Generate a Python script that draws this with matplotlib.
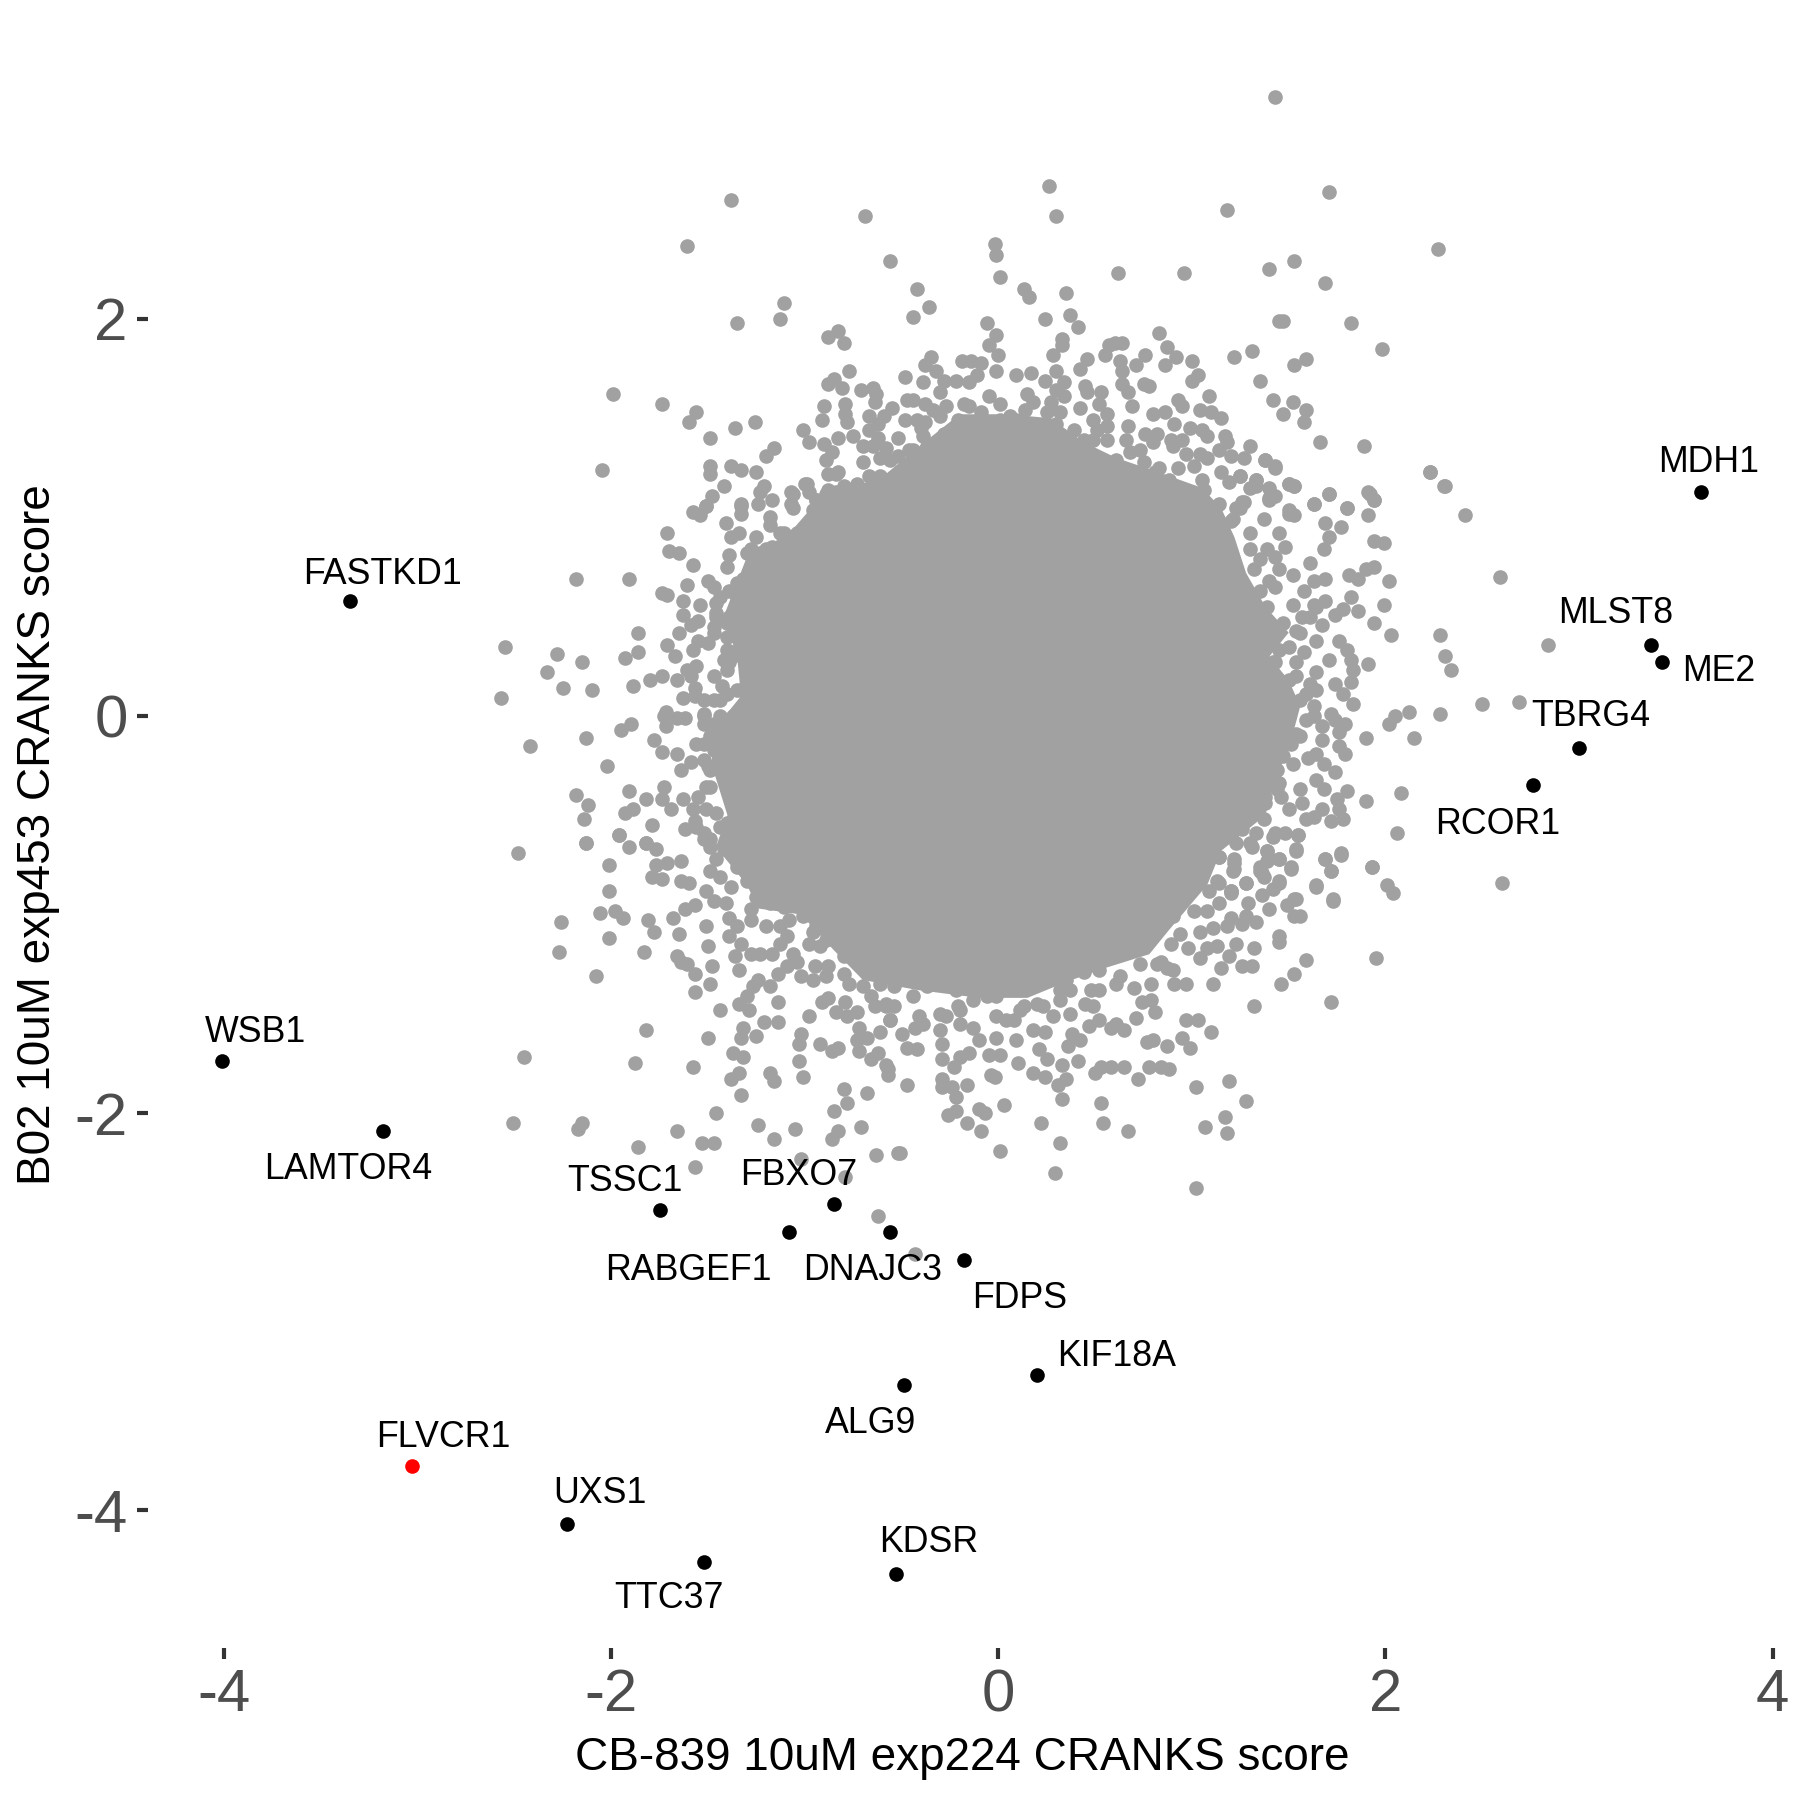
import numpy as np
from matplotlib import pyplot as plt

plt.rcParams['font.family'] = ['Liberation Sans', 'DejaVu Sans']

GREY = '#A1A1A1'

# points, one list per region of the cloud
upper_left = [(-1.38,2.60),(-0.69,2.52),(-1.61,2.37),(-0.56,2.29),(-0.42,2.15),(-0.36,2.06),(-0.44,2.01),(-1.11,2.08),
    (-1.13,2.00),(-1.35,1.98),(-0.83,1.94),(-0.88,1.91),(-0.80,1.88),(-0.35,1.81),(-0.38,1.77),(-0.32,1.74),(-0.77,1.74),
    (-0.48,1.71),(-0.85,1.70),(-0.88,1.67),(-0.81,1.65),(-0.39,1.68),(-0.71,1.64),(-0.65,1.65),(-0.63,1.62),(-1.99,1.62),
    (-1.74,1.57),(-1.56,1.53),(-1.60,1.48),(-1.26,1.48),(-1.36,1.45),(-1.49,1.40),(-0.90,1.56),(-0.79,1.57),(-0.79,1.52),
    (-0.78,1.48),(-0.91,1.49),(-1.01,1.44),(-0.98,1.38),(-0.64,1.58),(-0.55,1.55),(-0.59,1.51),(-0.67,1.51),(-0.62,1.47),
    (-0.67,1.44),(-0.47,1.59),(-0.44,1.59),(-0.38,1.57),(-0.48,1.49),(-0.42,1.49),(-0.38,1.48),(-0.40,1.45),(-0.30,1.51),
    (-0.52,1.40),(-0.62,1.40),(-0.75,1.41),(-0.83,1.40),(-0.90,1.37),(-0.86,1.33),(-0.89,1.29),(-0.70,1.28),(-0.58,1.35),
    (-0.61,1.30),(-0.70,1.36),(-1.16,1.35),(-1.20,1.31),(-2.05,1.24),(-1.49,1.26),(-1.49,1.22),(-1.38,1.26),(-1.33,1.24),
    (-1.25,1.23),(-1.42,1.16),(-1.48,1.11),(-1.51,1.06),(-1.21,1.16),(-1.23,1.13),(-1.17,1.09),(-1.24,1.07),(-1.33,1.07),
    (-1.00,1.17),(-1.07,1.13),(-0.98,1.13),(-0.88,1.22),(-0.83,1.23),(-0.88,1.14),(-0.84,1.13),(-0.73,1.17),(-0.67,1.21),
    (-0.61,1.21),(-0.94,1.09),(-0.78,1.10),(-1.07,1.07),(-0.52,1.31),(-0.44,1.34),(-0.37,1.36)]

upper_right = [(1.43,3.12),(1.71,2.64),(0.26,2.67),(0.30,2.52),(1.18,2.55),(2.27,2.35),(-0.02,2.38),(-0.01,2.32),(0.01,2.21),
    (0.62,2.23),(0.96,2.23),(1.40,2.25),(1.53,2.29),(1.69,2.18),(0.13,2.15),(0.16,2.11),(0.35,2.13),(0.24,2.00),(0.37,2.02),
    (0.41,1.96),(-0.06,1.98),(-0.01,1.92),(-0.05,1.87),(0.00,1.82),(-0.01,1.74),(-0.19,1.79),(-0.14,1.79),(-0.09,1.78),
    (0.09,1.72),(0.17,1.73),(0.33,1.90),(0.33,1.87),(0.28,1.82),(0.46,1.80),(0.42,1.75),(0.30,1.74),(0.24,1.69),(0.34,1.68),
    (0.55,1.82),(0.57,1.87),(0.60,1.88),(0.64,1.88),(0.63,1.79),(0.64,1.74),(0.71,1.77),(0.76,1.82),(0.83,1.93),(0.87,1.86),
    (0.92,1.81),(0.86,1.77),(1.00,1.79),(1.03,1.72),(1.00,1.69),(0.75,1.67),(0.78,1.66),(0.64,1.67),(0.67,1.63),(0.69,1.56),
    (0.45,1.66),(0.46,1.63),(0.53,1.63),(0.42,1.55),(0.52,1.57),(0.56,1.52),(0.49,1.49),(0.67,1.46),(1.09,1.61),(0.93,1.59),
    (0.95,1.56),(0.80,1.52),(0.86,1.53),(1.04,1.54),(1.10,1.53),(1.15,1.50),(0.91,1.47),(0.99,1.45),(1.05,1.44),(1.08,1.41),
    (1.17,1.41),(1.22,1.81),(1.31,1.84),(1.35,1.69),(1.42,1.59),(1.52,1.58),(1.47,1.52),(1.59,1.54),(1.58,1.48),(1.45,1.99),
    (1.47,1.99),(1.82,1.98),(1.98,1.85),(1.53,1.77),(1.59,1.80),(1.66,1.38),(1.89,1.36),(2.23,1.23),(2.30,1.16),(1.30,1.36),
    (1.27,1.30),(1.38,1.29),(1.43,1.25),(1.18,1.38),(1.14,1.34),(1.20,1.31),(1.08,1.30),(1.04,1.32),(0.97,1.32),(1.25,1.21),
    (1.15,1.23),(1.19,1.18),(1.33,1.19),(1.30,1.15),(1.40,1.15),(1.43,1.11),(1.40,1.09),(1.50,1.17),(1.53,1.16),(1.71,1.12),
    (1.63,1.07),(1.80,1.05),(1.92,1.12),(1.94,1.09),(1.27,1.08),(1.23,1.05),(1.50,1.04),(0.83,1.25),(0.81,1.23),(0.93,1.25),
    (1.01,1.26),(0.88,1.19),(1.05,1.19),(0.76,1.42),(0.82,1.42),(0.80,1.38),(0.66,1.39),(0.68,1.33),(0.73,1.34),(0.75,1.28),
    (0.89,1.39),(0.90,1.36),(0.95,1.39),(0.39,1.44),(0.36,1.39),(-0.05,1.61),(0.15,1.62),(0.01,1.57),(0.18,1.58),(0.27,1.58),
    (0.34,1.61),(0.30,1.64),(-0.09,1.53),(-0.21,1.49),(-0.18,1.57),(-0.15,1.68),(-0.22,1.69),(-0.11,1.72),(0.14,1.54),
    (0.30,1.47),(0.09,1.49),(0.01,1.49),(0.25,1.53),(0.56,1.46),(0.51,1.44),(-0.08,1.42)]

left_side = [(-1.71,0.92),(-1.70,0.83),(-1.65,0.82),(-1.58,0.76),(-2.18,0.69),(-1.91,0.69),(-1.50,0.68),(-1.47,0.65),(-1.61,0.66),
    (-1.74,0.62),(-1.71,0.61),(-1.63,0.58),(-1.54,0.56),(-1.63,0.51),(-1.55,0.48),(-1.59,0.46),(-1.86,0.42),(-1.65,0.42),
    (-1.71,0.36),(-1.55,0.38),(-1.86,0.32),(-1.93,0.29),(-2.55,0.35),(-2.28,0.31),(-2.15,0.27),(-2.33,0.22),(-1.67,0.30),
    (-1.58,0.33),(-2.25,0.14),(-2.10,0.13),(-1.89,0.15),(-1.80,0.18),(-1.74,0.20),(-1.66,0.18),(-1.61,0.23),(-1.56,0.25),
    (-1.59,0.20),(-2.57,0.09),(-1.57,0.14),(-1.63,0.09),(-1.57,0.10),(-1.47,0.20),(-1.43,0.15),(-1.40,0.23),(-1.72,0.02),
    (-1.73,0.00),(-1.72,-0.05),(-1.66,-0.01),(-1.62,-0.01),(-1.90,-0.04),(-1.95,-0.07),(-2.13,-0.11),(-2.42,-0.15),(-1.78,-0.12),
    (-1.74,-0.18),(-1.66,-0.19),(-1.59,-0.23),(-1.64,-0.27),(-2.02,-0.25),(-1.56,-0.14),(-2.18,-0.40),(-1.91,-0.38),(-1.73,-0.36),
    (-2.12,-0.45),(-1.82,-0.42),(-1.74,-0.42),(-1.89,-0.47),(-1.93,-0.49),(-1.69,-0.47),(-1.63,-0.42),(-1.55,-0.41),(-2.14,-0.52),
    (-1.79,-0.55),(-1.96,-0.60),(-1.62,-0.57),(-1.57,-0.53),(-2.13,-0.64),(-1.82,-0.64),(-1.41,0.97),(-1.33,1.06),(-1.33,1.02),
    (-1.58,1.03),(-1.54,1.01),(-1.51,1.06),(-1.38,0.90),(-1.34,0.92),(-1.25,0.90),(-1.18,1.00),(-1.18,0.96),(-1.39,0.81),
    (-1.40,0.75),(-1.30,0.82),(-1.23,0.82),(-1.17,0.85),(-1.24,0.71),(-1.16,0.70),(-1.32,0.69),(-1.11,0.92),(-1.04,0.92),
    (-0.96,1.00),(-0.89,0.94),(-1.39,0.63),(-1.46,0.57),(-1.46,0.50),(-1.33,0.55),(-1.40,0.47),(-1.32,0.47),(-1.23,0.58),
    (-1.47,0.42),(-1.50,0.37),(-1.40,0.33),(-1.37,0.30),(-1.42,0.28),(-1.30,0.38),(-1.28,0.30),(-1.35,0.13),(-1.44,0.08),
    (-1.52,0.08),(-1.52,0.00),(-1.47,-0.04),(-1.49,-0.10),(-1.47,-0.17),(-1.50,-0.25),(-1.44,-0.27),(-1.37,0.00),(-1.37,-0.14),
    (-1.51,-0.36),(-1.37,-0.40),(-1.32,-0.37),(-1.23,-0.40),(-1.28,-0.44),(-1.46,-0.49),(-1.52,-0.59),(-1.44,-0.56),(-1.32,-0.56),
    (-1.20,-0.54),(-1.49,-0.62)]

lower_left = [(-2.48,-0.69),(-2.13,-0.64),(-1.96,-0.60),(-1.91,-0.66),(-1.82,-0.64),(-1.77,-0.67),(-2.01,-0.75),(-1.77,-0.75),
    (-1.71,-0.74),(-1.64,-0.73),(-1.79,-0.81),(-1.74,-0.82),(-1.64,-0.83),(-1.60,-0.84),(-2.01,-0.88),(-1.51,-0.88),(-1.47,-0.93),
    (-1.41,-0.94),(-1.49,-0.78),(-1.44,-0.81),(-1.38,-0.86),(-1.57,-0.95),(-1.62,-0.97),(-2.06,-0.99),(-1.98,-0.98),(-1.94,-1.02),
    (-2.26,-1.04),(-1.81,-1.03),(-1.68,-1.02),(-1.39,-1.02),(-1.78,-1.09),(-1.65,-1.10),(-1.51,-1.06),(-2.01,-1.12),(-1.50,-1.16),
    (-2.27,-1.19),(-1.83,-1.19),(-1.66,-1.21),(-1.64,-1.24),(-1.61,-1.25),(-1.36,-1.21),(-1.48,-1.26),(-1.34,-1.28),(-1.57,-1.30),
    (-2.08,-1.31),(-1.49,-1.35),(-1.57,-1.39),(-1.35,-1.06),(-1.39,-1.11),(-1.33,-1.15),(-1.28,-1.20),(-1.23,-1.20),(-1.17,-1.20),
    (-1.13,-1.15),(-1.09,-1.11),(-1.13,-1.06),(-1.20,-1.06),(-1.28,-1.03),(-1.28,-0.97),(-1.06,-1.20),(-1.04,-1.24),(-1.09,-1.26),
    (-1.14,-1.30),(-1.02,-1.31),(-0.95,-1.26),(-0.88,-1.26),(-0.89,-1.31),(-0.96,-1.33),(-0.98,-1.15),(-0.92,-1.16),(-0.96,-1.09),
    (-1.24,-1.33),(-1.27,-1.36),(-1.18,-1.36),(-1.14,-1.44),(-1.30,-1.41),(-1.34,-1.45),(-1.29,-1.48),(-1.44,-1.48),(-0.91,-1.44),
    (-0.88,-1.42),(-0.84,-1.49),(-0.79,-1.44),(-0.73,-1.49),(-0.78,-1.51),(-0.98,-1.51),(-1.14,-1.54),(-1.21,-1.54),(-1.32,-1.57),
    (-1.33,-1.62),(-1.25,-1.61),(-1.50,-1.62),(-1.82,-1.58),(-1.02,-1.60),(-1.03,-1.65),(-0.92,-1.65),(-0.86,-1.69),(-0.83,-1.67),
    (-0.72,-1.57),(-0.73,-1.63),(-0.68,-1.62),(-0.61,-1.59),(-0.56,-1.53),(-0.58,-1.46),(-0.64,-1.46),(-0.66,-1.41),(-1.37,-1.70),
    (-1.32,-1.72),(-2.45,-1.72),(-1.88,-1.75),(-1.58,-1.77),(-1.03,-1.74),(-0.72,-1.69),(-0.66,-1.73),(-0.62,-1.70),(-0.58,-1.76),
    (-0.57,-1.81),(-1.34,-1.80),(-1.38,-1.83),(-1.18,-1.80),(-1.16,-1.84),(-1.01,-1.82),(-1.33,-1.91),(-0.80,-1.88),(-0.68,-1.90),
    (-0.78,-1.95),(-1.46,-2.00),(-0.85,-1.99),(-2.51,-2.05),(-2.15,-2.05),(-2.17,-2.08),(-1.24,-2.06),(-1.05,-2.08),(-0.71,-2.07),
    (-0.83,-2.09),(-0.86,-2.13),(-1.66,-2.09),(-1.16,-2.13),(-1.53,-2.15),(-1.47,-2.15),(-1.86,-2.17),(-0.63,-2.21),(-0.52,-2.20),
    (-1.02,-2.23),(-1.57,-2.27),(-0.79,-2.32),(-0.62,-2.52)]

lower_right = [(-0.43,-2.71),(-0.51,-2.20),(-0.47,-1.86),(-0.57,-1.78),(-0.42,-1.68),(-0.47,-1.67),(-0.50,-1.60),(-0.56,-1.53),
    (-0.43,-1.57),(-0.39,-1.55),(-0.29,-1.73),(-0.23,-1.77),(-0.29,-1.83),(-0.29,-1.87),(-0.24,-1.87),(-0.22,-1.92),(-0.16,-1.86),
    (-0.22,-1.99),(-0.26,-2.01),(-0.16,-2.05),(-0.10,-1.98),(-0.07,-2.00),(-0.09,-2.09),(0.03,-1.96),(-0.04,-1.81),(-0.02,-1.82),
    (0.10,-1.75),(-0.20,-1.72),(-0.15,-1.70),(-0.05,-1.71),(0.01,-1.71),(-0.10,-1.63),(-0.01,-1.62),(0.09,-1.63),(-0.29,-1.65),
    (0.18,-1.58),(0.24,-1.59),(0.21,-1.68),(0.25,-1.73),(0.33,-1.76),(0.18,-1.80),(0.24,-1.82),(0.31,-1.86),(0.35,-1.83),(0.41,-1.74),
    (0.50,-1.80),(0.53,-1.77),(0.58,-1.77),(0.65,-1.77),(0.78,-1.77),(0.84,-1.77),(0.88,-1.78),(0.72,-1.83),(0.22,-2.05),(0.33,-1.93),
    (0.53,-1.95),(0.54,-2.05),(0.67,-2.09),(0.32,-2.15),(0.01,-2.19),(0.29,-2.30),(1.02,-1.87),(1.19,-1.84),(1.28,-1.94),(1.17,-2.02),
    (1.07,-2.07),(1.18,-2.10),(1.02,-2.38),(0.77,-1.64),(0.80,-1.63),(0.87,-1.66),(0.99,-1.67),(0.95,-1.62),(0.97,-1.53),(1.03,-1.53),
    (1.10,-1.59),(0.71,-1.52),(0.36,-1.66),(0.42,-1.63),(0.38,-1.60),(0.58,-1.57),(0.65,-1.58),(0.61,-1.55),(0.47,-1.56),(0.52,-1.53),
    (0.28,-1.51),(0.37,-1.50),(0.49,-1.46),(0.45,-1.45),(0.74,-1.44),(0.79,-1.43),(0.81,-1.49),(1.32,-1.46),(1.72,-1.44),(1.46,-1.35),
    (1.53,-1.30),(1.59,-1.23),(1.95,-1.22),(1.11,-1.35),(0.91,-1.35),(0.97,-1.35),(1.15,-1.27),(1.26,-1.26),(1.31,-1.26),(1.19,-1.21),
    (1.04,-1.22),(0.98,-1.17),(1.08,-1.17),(1.13,-1.16),(1.23,-1.15),(1.32,-1.17),(1.45,-1.11),(1.45,-1.14),(0.52,-1.38),(0.48,-1.38),
    (0.79,-1.35),(0.70,-1.37),(0.61,-1.35),(0.87,-1.27),(0.90,-1.28),(0.84,-1.24),(0.44,-1.29),(0.94,-1.10),(1.04,-1.09),(1.11,-1.07),
    (1.18,-1.06),(1.26,-1.05),(1.33,-1.04),(1.20,-1.02),(1.28,-1.01),(1.08,-0.98),(1.14,-0.94),(1.20,-0.88),(1.14,-0.84),(1.28,-0.84),
    (1.29,-0.94),(1.40,-0.97),(1.36,-0.90),(1.42,-0.87),(1.45,-0.83),(1.49,-0.95),(1.54,-0.92),(1.53,-1.01),(1.56,-1.01),(1.64,-0.86),
    (1.73,-0.93),(1.72,-0.78),(1.69,-0.72),(1.77,-0.69),(1.93,-0.76),(1.51,-0.77),(1.36,-0.79),(1.35,-0.76),(1.39,-0.73),(1.39,-0.68),
    (1.45,-0.72),(1.54,-0.67),(1.55,-0.60),(1.42,-0.61),(1.22,-0.77),(1.22,-0.72),(1.31,-0.66),(1.14,-0.71),(-0.44,-1.41),(-0.37,-1.36),
    (-0.22,-1.38),(-0.21,-1.46),(-0.13,-1.43),(-0.06,-1.38),(-0.01,-1.41),(-0.20,-1.55),(-0.13,-1.57),(-0.30,-1.58),(-0.27,-1.51),
    (0.08,-1.53),(-0.01,-1.51),(0.13,-1.46),(0.20,-1.45),(0.32,-1.38),(0.35,-1.33),(0.25,-1.25),(-0.58,-1.45)]

right_side = [(2.23,1.23),(2.31,1.16),(2.41,1.01),(2.59,0.70),(2.84,0.36),(2.28,0.41),(2.31,0.30),(2.34,0.23),(2.50,0.06),(2.69,0.07),
    (2.28,0.01),(2.12,0.02),(2.05,0.00),(2.02,-0.04),(2.15,-0.11),(1.90,-0.11),(2.08,-0.39),(1.90,-0.43),(2.06,-0.59),(1.93,-0.76),
    (2.60,-0.84),(2.01,-0.85),(2.04,-0.89),(1.64,-0.85),(1.77,-0.70),(1.69,-0.72),(1.72,-0.78),(1.91,1.13),(1.94,1.09),(1.91,1.01),
    (1.94,0.88),(1.99,0.87),(1.71,1.12),(1.63,1.07),(1.80,1.05),(1.69,0.97),(1.77,0.95),(1.71,0.90),(1.68,0.84),(1.61,0.77),(2.02,0.68),
    (1.94,0.75),(1.90,0.74),(1.86,0.69),(1.81,0.71),(1.99,0.56),(1.82,0.60),(1.86,0.53),(1.94,0.47),(2.03,0.41),(1.91,0.26),(1.76,0.38),
    (1.80,0.33),(1.82,0.28),(1.83,0.23),(1.82,0.17),(1.74,0.16),(1.78,0.11),(1.83,0.06),(1.71,0.28),(1.64,0.22),(1.64,0.38),(1.67,0.46),
    (1.74,0.51),(1.78,0.54),(1.69,0.58),(1.63,0.56),(1.52,0.56),(1.69,0.69),(1.63,0.68),(1.58,0.63),(1.52,0.71),(1.43,0.65),(1.40,0.68),
    (1.45,0.74),(1.43,0.80),(1.48,0.85),(1.45,0.92),(1.37,0.99),(1.50,1.02),(1.53,1.01),(1.50,1.17),(1.53,1.16),(1.38,1.29),(1.43,1.26),
    (1.33,1.19),(1.40,1.10),(1.26,1.08),(1.20,0.98),(1.25,1.21),(1.64,0.13),(1.63,0.05),(1.72,0.01),(1.79,-0.04),(1.74,-0.02),(1.76,-0.08),
    (1.67,-0.05),(1.67,-0.12),(1.76,-0.15),(1.79,-0.19),(1.64,-0.19),(1.60,-0.21),(1.52,-0.24),(1.68,-0.24),(1.74,-0.28),(1.64,-0.32),
    (1.68,-0.37),(1.80,-0.38),(1.75,-0.42),(1.76,-0.47),(1.78,-0.52),(1.72,-0.53),(1.56,-0.37),(1.57,-0.44),(1.67,-0.47),(1.63,-0.51),
    (1.59,-0.52),(1.50,-0.47),(1.55,-0.60),(1.48,-0.59),(1.43,-0.59),(1.37,-0.52),(1.54,-0.68),(1.51,-0.76),(1.45,-0.72),(1.39,-0.68),
    (1.35,-0.78),(1.37,-0.81),(1.45,-0.84),(1.28,-0.84),(1.22,-0.74),(1.30,-0.64),(1.53,-0.92),(1.73,-0.92),(1.20,-0.89),(1.43,0.27),
    (1.54,0.27),(1.58,0.32),(1.50,0.35),(1.56,0.42),(1.45,0.33),(1.40,0.42),(1.37,0.42),(1.54,0.20),(1.47,0.16),(1.61,0.16),(1.56,0.08),
    (1.50,0.00),(1.59,-0.02),(1.56,-0.10),(1.47,-0.20),(1.44,-0.27),(1.45,-0.34),(1.46,-0.41),(1.38,-0.44),(1.32,-0.44)]

# crowded edge of the solid part
rim = [(-0.56,1.29),(-0.46,1.34),(-0.51,1.22),(-0.68,1.14),(-0.59,1.16),(-0.80,1.16),(-0.65,1.36),(-0.39,1.41),(-0.28,1.42),(-0.30,1.63),
    (-0.28,1.69),(-0.27,1.56),(-0.34,1.54),(-0.15,1.56),(0.06,1.51),(0.16,1.46),(0.25,1.46),(0.32,1.53),(0.49,1.39),(0.56,1.39),(0.44,1.39),
    (0.61,1.29),(0.68,1.22),(0.75,1.19),(0.85,1.15),(0.95,1.14),(1.06,1.14),(1.14,1.07),(0.99,1.07),(-1.06,1.12),(-0.99,1.17),(-1.06,1.05),
    (-0.94,1.09),(-0.89,1.12),(-0.84,1.22),(-0.85,1.04),(-0.96,1.04),(-1.13,0.92),(-1.01,0.94),(-1.28,0.84),(-1.20,0.84),(-1.09,0.84),
    (-1.35,0.67),(-1.30,0.70),(-1.23,0.63),(-1.44,0.60),(-1.35,0.60),(-1.46,0.52),(-1.39,0.50),(-1.47,0.45),(-1.35,0.40),(-1.40,0.40),
    (-1.30,0.30),(-1.28,0.23),(-1.37,0.32),(-1.39,0.27),(-1.33,0.13),(-1.40,0.11),(-1.47,0.08),(-1.52,0.01),(-1.44,0.00),(-1.52,-0.04),
    (-1.49,-0.12),(-1.52,-0.14),(-1.46,-0.17),(-1.52,-0.22),(-1.49,-0.27),(-1.40,-0.31),(-1.49,-0.36),(-1.37,-0.37),(-1.37,-0.44),(-1.28,-0.46),
    (-1.20,-0.47),(-1.51,-0.47),(-1.58,-0.47),(-1.56,-0.56),(-1.40,-0.54),(-1.28,-0.56),(-1.15,-0.52),(-1.52,-0.62),(-1.49,-0.66),(-1.42,-0.67),
    (-1.33,-0.64),(-1.46,-0.72),(-1.35,-0.76),(-1.28,-0.74),(-1.30,-0.83),(-1.23,-0.79),(-1.25,-0.91),(-1.18,-0.94),(-1.11,-0.96),(-1.08,-1.03),
    (-1.01,-1.01),(-0.94,-1.06),(-0.80,-1.13),(-0.89,-1.13),(-0.80,-1.21),(-0.80,-1.30),(-0.77,-1.35),(-0.70,-1.36),(-0.61,-1.35),(-0.54,-1.36),
    (-0.71,-1.25),(1.30,0.92),(1.25,1.05),(1.21,0.99),(1.33,1.16),(1.30,0.84),(1.35,0.79),(1.32,0.74),(1.39,0.84),(1.35,0.63),(1.39,0.55),
    (1.47,0.47),(1.42,0.45),(1.37,0.43),(1.54,0.43),(1.61,0.50),(1.57,0.50),(1.64,0.55),(1.42,0.27),(1.37,0.21),(1.50,0.18),(1.44,0.13),
    (1.59,0.11),(1.63,0.00),(1.54,-0.09),(1.51,-0.14),(1.42,-0.26),(1.44,-0.37),(1.38,-0.41),(1.30,-0.44),(1.21,-0.52),(1.26,-0.57),(1.33,-0.59),
    (1.23,-0.64),(1.14,-0.71),(1.21,-0.78),(1.13,-0.83),(1.20,-0.88),(1.09,-0.88),(1.01,-0.98),(0.90,-1.01),(0.89,-1.15),(0.82,-1.25),(0.73,-1.25),
    (0.63,-1.31),(0.52,-1.28),(0.37,-1.38),(0.32,-1.43),(0.23,-1.46),(0.11,-1.48),(0.04,-1.53),(-0.06,-1.41),(-0.20,-1.48),(-0.30,-1.50),
    (-0.41,-1.51),(-0.54,-1.46)]

# the middle of the cloud is solid grey, single points can't be read there,
# so only its outline is kept
core_x = [-0.20, 0.05, 0.27, 0.44, 0.61, 0.85, 1.05, 1.15, 1.22, 1.28, 1.38, 1.50, 1.40, 1.50, 1.56, 1.50, 1.42, 1.38, 1.15, 1.08, 0.88,
          0.78, 0.55, 0.35, 0.15, -0.10, -0.42, -0.70, -0.85, -1.02, -1.24, -1.30, -1.46, -1.40, -1.48, -1.48, -1.33, -1.35, -1.42,
          -1.36, -1.30, -1.08, -0.92, -0.75, -0.58, -0.42]
core_y = [1.52, 1.52, 1.50, 1.38, 1.30, 1.22, 1.15, 1.05, 0.90, 0.72, 0.55, 0.42, 0.30, 0.18, 0.05, -0.17, -0.34, -0.50, -0.68, -0.85, -1.08,
          -1.20, -1.27, -1.34, -1.42, -1.42, -1.38, -1.33, -1.18, -1.00, -0.97, -0.85, -0.66, -0.50, -0.25, -0.08, 0.10, 0.30, 0.50,
          0.65, 0.80, 0.92, 1.10, 1.15, 1.22, 1.35]

genes = ['MDH1', 'MLST8', 'ME2', 'TBRG4', 'RCOR1', 'FASTKD1', 'WSB1', 'LAMTOR4', 'TSSC1', 'FBXO7', 'RABGEF1', 'DNAJC3',
         'FDPS', 'KIF18A', 'ALG9', 'FLVCR1', 'UXS1', 'TTC37', 'KDSR']
gene_x = [3.63, 3.37, 3.43, 3.00, 2.76, -3.35, -4.01, -3.18, -1.75, -0.85, -1.08, -0.56, -0.18, 0.20, -0.49, -3.03, -2.23, -1.52, -0.53]
gene_y = [1.13, 0.36, 0.27, -0.16, -0.35, 0.58, -1.74, -2.09, -2.49, -2.46, -2.60, -2.60, -2.74, -3.32, -3.37, -3.78, -4.07, -4.26, -4.32]
label_x = [3.67, 3.19, 3.72, 3.06, 2.58, -3.18, -3.84, -3.36, -1.93, -1.03, -1.60, -0.65, 0.11, 0.61, -0.66, -2.87, -2.06, -1.70, -0.36]
label_y = [1.275, 0.515, 0.225, -0.005, -0.545, 0.715, -1.595, -2.285, -2.345, -2.315, -2.795, -2.795, -2.935, -3.225, -3.565, -3.635, -3.915, -4.445, -4.165]

xticks = [-4, -2, 0, 2, 4]
yticks = [-4, -2, 0, 2]

grey = np.array(upper_left + upper_right + left_side + lower_left + lower_right + right_side + rim)

fig = plt.figure(figsize=(6, 6), dpi=300)
ax = fig.add_axes([148/1800, 1 - 1648/1800, (1776 - 148)/1800, (1648 - 22)/1800])

ax.fill(core_x, core_y, color=GREY, lw=0, zorder=1)
ax.scatter(grey[:, 0], grey[:, 1], s=12.3, c=GREY, linewidths=0, zorder=2)

for gene, x, y, lx, ly in zip(genes, gene_x, gene_y, label_x, label_y):
    ax.scatter(x, y, s=12.3, c='red' if gene == 'FLVCR1' else 'black', linewidths=0, zorder=3)
    ax.text(lx, ly, gene, fontsize=8.6, color='black', ha='center', va='center', zorder=4)

ax.set_xlim(-4.394, 4.018)
ax.set_ylim(-4.695, 3.496)
ax.set_xticks(xticks)
ax.set_yticks(yticks)
ax.set_xticklabels([str(t) for t in xticks])
ax.set_yticklabels([str(t) for t in yticks])
ax.tick_params(length=2.7, width=1.0, color='#333333', labelcolor='#4D4D4D', labelsize=14.4, pad=2.2)
for side in ax.spines:
    ax.spines[side].set_visible(False)

ax.set_xlabel('CB-839 10uM exp224 CRANKS score', fontsize=11)
ax.set_ylabel('B02 10uM exp453 CRANKS score', fontsize=11)
ax.xaxis.set_label_coords(0.5, -0.054)
ax.yaxis.set_label_coords(-0.054, 0.5)

plt.savefig('out.png')
